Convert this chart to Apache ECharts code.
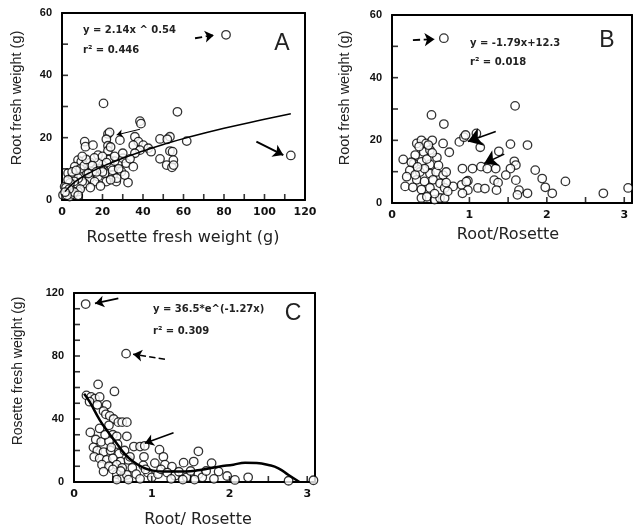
<!DOCTYPE html>
<html><head><meta charset="utf-8">
<script src="https://cdn.jsdelivr.net/npm/echarts@6/dist/echarts.min.js"></script>
<style>html,body{margin:0;padding:0;background:#fff}#c{width:635px;height:529px}</style>
</head><body><div id="c"></div>
<script>
// ---- tick labels / tick positions ----
const ticksAx = [0, 20, 40, 60, 80, 100, 120];
const minorAx = [10, 30, 50, 70, 90, 110];
const ticksRatio = [0, 1, 2, 3];
const minorRatio = [0.5, 1.5, 2.5];
const ticksY60 = [0, 20, 40, 60];
const minorY60 = [10, 30, 50];
const ticksY120 = [0, 40, 80, 120];
const minorY120 = [10, 20, 30, 50, 60, 70, 90, 100, 110];

// ---- Panel A: rosette fresh weight (x) vs root fresh weight (y) ----
const pointsA = [
 [81,53],[113,14.3],[20.5,31],[57,28.3],[38.5,25.3],[11.2,18.7],[11.6,17.1],[15.3,17.6],[22.7,21.2],[23.5,21.7],
 [21.9,19.5],[22.7,17.4],[22.7,15.8],[17.8,14.4],[7.9,12.8],[9.5,12.3],[6.3,10.7],[13.7,10.1],[16.9,10.1],[20.2,11.2],
 [24.4,10.7],[27.7,11.8],[30.1,13.4],[31.7,11.8],[3,8.6],[5.4,7.5],[9.5,8],[13.7,7],[17.8,7.5],[21.1,8.6],
 [25.2,8],[29.3,9.1],[26.8,5.9],[21.9,5.9],[16.1,5.9],[11.2,5.3],[7.1,4.8],[32.6,5.6],[1.3,4.3],[2.1,2.7],
 [4.6,3.2],[7.9,2.7],[0.5,1.6],[3.8,1.1],[5.4,1.9],[36,20.3],[37.7,18.7],[35.2,17.6],[40.1,17.6],[38.5,16],
 [42.6,16.6],[36,15],[48.4,19.6],[53.3,20.3],[52,19.5],[61.6,18.9],[53.3,15.7],[54.6,15.5],[48.4,13.2],[55,12.8],
 [51.7,11.2],[54.3,10.5],[55.1,11.2],[35.2,10.7],[33.6,13.2],[28.6,19.2],[30,15],[26,12.5],[19,10],[14,12],
 [12,9],[10,6],[8,7],[6,6],[4,5.5],[3,6.5],[2,4],[9,10],[11,11],[15,9],
 [18,12],[23,13],[25,9.5],[27,7],[19,4.5],[14,4],[9,3.5],[6,2.5],[12,13],[10,14],
 [16,13.5],[20,9],[24,6.5],[28,10],[31,8],[3.5,3.5],[5,9],[7,9.5],[2.5,1.5],[1.5,2.5],
 [8,1.5],[13,8.5],[15,11],[17,9],[20,14],[22,12],[26,14],[24,17],[39,24.5],[44,15.5]
];
const fitA = [[1.5,2.7],[5,5.1],[10,7.4],[15,9.2],[20,10.8],[30,13.4],[40,15.7],[50,17.8],[60,19.7],[80,23.0],[100,25.9],[113,27.7]];
const arrowsA = [[[65.7,51.9],[75,52.9]],[[96,18.7],[109.3,14.4]],[[38.5,22.7],[27,20.9]]];

// ---- Panel B: root/rosette (x) vs root fresh weight (y) ----
const pointsB = [
 [0.67,52.6],[1.59,31],[0.51,28.1],[0.67,25.2],[0.145,13.9],[0.32,19],[0.38,20],[0.44,19],[0.52,20],[0.66,19],
 [0.87,19.5],[0.93,21],[0.95,21.7],[1.09,22.2],[1.14,17.8],[1.53,18.8],[1.75,18.5],[1.38,16.5],[0.74,16.2],[0.3,15.3],
 [0.41,16.3],[0.49,16.9],[0.28,12.6],[0.38,13.1],[0.49,12.3],[0.23,10.4],[0.36,9.9],[0.49,9.4],[0.57,9.9],[0.66,8.9],
 [0.7,9.9],[0.19,8.4],[0.32,7.4],[0.42,6.9],[0.53,7.4],[0.62,6.3],[0.17,5.3],[0.27,5],[0.38,4.3],[0.49,4.8],
 [0.68,4.8],[0.79,5.3],[0.9,5.8],[0.98,7.1],[0.38,1.6],[0.55,1.1],[0.62,1.6],[0.68,1.6],[0.72,3.7],[1.58,13.3],
 [1.6,12.1],[0.91,11],[1.04,11],[1.15,11.6],[1.23,11],[1.34,11],[1.53,11],[1.47,8.9],[1.85,10.5],[1.32,7.3],
 [1.37,6.5],[1.6,7.3],[1.94,7.8],[0.96,6.8],[0.98,4.1],[1.11,4.8],[1.2,4.6],[1.35,4.1],[1.64,4.1],[1.62,2.6],
 [1.75,3.1],[1.98,5],[2.07,3.1],[2.24,6.9],[2.73,3.1],[3.05,4.8],[0.91,3.1],[0.35,18],[0.45,14],[0.25,13],
 [0.58,14.5],[0.6,12],[0.42,11],[0.3,9],[0.55,3],[0.45,2],[0.7,6.5],[0.33,11.5],[0.52,16],[0.47,18.5]
];
const arrowsB = [[[0.27,52],[0.55,52.3]],[[1.34,22.8],[0.98,19.6]],[[1.45,15.6],[1.19,12.6]]];

// ---- Panel C: root/rosette (x) vs rosette fresh weight (y) ----
const pointsC = [
 [0.15,113],[0.67,81.5],[0.31,62],[0.52,57.5],[0.16,55],[0.22,54],[0.27,53],[0.33,54],[0.2,51],[0.3,49],
 [0.42,49],[0.38,45],[0.41,43],[0.46,42],[0.51,40],[0.57,38],[0.62,38],[0.68,38],[0.45,36],[0.21,31.5],
 [0.33,34],[0.5,30],[0.55,29],[0.68,29],[0.28,27],[0.35,25.5],[0.45,26],[0.56,24],[0.77,22.5],[0.85,22.5],
 [0.91,23],[0.25,22],[0.3,20],[0.38,19],[0.47,20],[0.58,18],[1.1,20.5],[1.6,19.5],[0.26,16],[0.33,15],
 [0.42,14],[0.5,15],[0.6,13],[0.7,14],[0.9,16],[0.36,11],[0.45,10],[0.55,11],[0.62,9],[0.75,9],
 [0.89,10.5],[1.15,16],[1.04,12],[1.17,11],[1.26,9.7],[1.41,12.3],[1.54,13],[1.77,12],[0.38,6.6],[0.55,5],
 [0.62,3],[0.68,4.5],[0.8,5],[0.95,6],[1.0,3],[1.08,5],[1.12,8],[1.2,6],[1.3,4],[1.35,6.5],
 [1.45,3],[1.5,7],[1.6,5],[1.65,3],[1.7,7],[1.86,6.6],[1.97,3.8],[2.07,1.3],[2.24,3],[2.76,0.8],
 [3.08,1.1],[0.55,1.5],[0.7,1.5],[0.85,2],[0.92,8],[1.25,2],[1.4,1.5],[1.55,1.5],[1.8,2],[0.6,7],
 [0.5,8],[0.65,20],[0.72,16],[0.4,30],[0.48,22]
];
const fitC = [[0.13,56],[0.2,51],[0.33,39.5],[0.45,31],[0.55,24.5],[0.65,18],[0.76,13],[0.88,9.5],[0.98,7.6],[1.15,6.6],
 [1.43,6.6],[1.62,7.6],[1.86,9.7],[2.05,11],[2.2,12.2],[2.35,12],[2.5,10.8],[2.63,8.7],[2.76,4.4],[2.9,0]];
const arrowsC = [[[0.57,116.6],[0.27,113.4]],[[1.17,77.9],[0.76,81.1]],[[1.28,31.3],[0.91,24.6]]];

// ---- styles ----
const arrowStyles = {
  A: [{type:'dashed', w:1.8, head:9}, {type:'solid', w:2, head:10}, {type:'solid', w:1, head:6}],
  B: [{type:'dashed', w:1.8, head:10}, {type:'solid', w:1.6, head:14}, {type:'solid', w:1.6, head:13}],
  C: [{type:'solid', w:1.8, head:9}, {type:'dashed', w:1.6, head:9}, {type:'solid', w:1.6, head:9}]
};
function arrowData(list, styles) {
  return list.map((a, i) => [
    {coord: a[0], symbol: 'none', lineStyle: {color:'#000', width: styles[i].w, type: styles[i].type}},
    {coord: a[1], symbol: 'arrow', symbolSize: styles[i].head}
  ]);
}
const tickLabelX = {color:'#111', fontFamily:'DejaVu Sans', fontWeight:'bold', fontSize:11, margin:7};
const tickLabelY = {color:'#111', fontFamily:'Liberation Sans', fontWeight:'bold', fontSize:11, margin:10};
const blackLine = {show:true, onZero:false, lineStyle:{color:'#000', width:2}};
function mainAxis(gi, ticks, max, label) {
  return {
    gridIndex: gi, type:'value', min: ticks[0], max: max, interval: ticks[1]-ticks[0],
    axisLine: blackLine, axisTick:{show:false}, minorTick:{show:false}, splitLine:{show:false},
    axisLabel: Object.assign({formatter: v => ticks.includes(v) ? String(v) : ''}, label)
  };
}
function frameAxis(gi, ticks, max, pos) {
  return {
    gridIndex: gi, type:'value', position: pos, min: ticks[0], max: max, interval: ticks[1]-ticks[0],
    axisLine: blackLine, axisTick:{show:false}, minorTick:{show:false}, axisLabel:{show:false}, splitLine:{show:false}
  };
}
const scatterStyle = {color:'#fff', borderColor:'#000', borderWidth:1.3};
function scatter(gi, data, arrows, styles) {
  return {
    type:'scatter', xAxisIndex: gi, yAxisIndex: gi, data: data, symbol:'circle', symbolSize: 8.5,
    itemStyle: scatterStyle, silent: true, z: 3,
    markLine: {silent:true, animation:false, label:{show:false}, symbol:['none','arrow'],
      data: arrowData(arrows, styles)}
  };
}
// inward tick marks as thin rectangles placed by the axes' own scales
function tickMarks(gi, xt, xm, yt, ym) {
  const xs = xt.concat(xm).map(v => [v, yt[0]]);
  const ys = yt.concat(ym).map(v => [xt[0], v]);
  const base = {type:'scatter', xAxisIndex: gi, yAxisIndex: gi, symbol:'rect', silent:true, clip:false, z: 6,
    itemStyle:{color:'#000', borderWidth:0}};
  return [
    Object.assign({}, base, {data: xs, symbolSize:[1.6, 6], symbolOffset:[0, -3]}),
    Object.assign({}, base, {data: ys, symbolSize:[6, 1.6], symbolOffset:[3, 0]})
  ];
}
function textEl(x, y, text, font, align, rot) {
  return {type:'text', x: x, y: y, rotation: rot || 0, silent:true, z: 50,
    style:{text: text, font: font, fill: '#222', align: align || 'left', verticalAlign:'middle'}};
}
const annFont = 'bold 10px "DejaVu Sans"';
const letterFont = '23px "Liberation Sans"';
const xNameFont = '16px "DejaVu Sans"';
const yNameFont = '14.5px "Liberation Sans"';
const R90 = Math.PI / 2;

const chart = echarts.init(document.getElementById('c'));
chart.setOption({
  animation: false,
  grid: [
    {left:62, top:13, width:243, height:187},
    {left:392, top:15, width:242, height:188},
    {left:74, top:293, width:241, height:189}
  ],
  xAxis: [
    mainAxis(0, ticksAx, 120, tickLabelX),
    mainAxis(1, ticksRatio, 3.1, tickLabelX),
    mainAxis(2, ticksRatio, 3.1, tickLabelX),
    frameAxis(0, ticksAx, 120, 'top'),
    frameAxis(1, ticksRatio, 3.1, 'top'),
    frameAxis(2, ticksRatio, 3.1, 'top')
  ],
  yAxis: [
    mainAxis(0, ticksY60, 60, tickLabelY),
    mainAxis(1, ticksY60, 60, tickLabelY),
    mainAxis(2, ticksY120, 120, tickLabelY),
    frameAxis(0, ticksY60, 60, 'right'),
    frameAxis(1, ticksY60, 60, 'right'),
    frameAxis(2, ticksY120, 120, 'right')
  ],
  series: [
    scatter(0, pointsA, arrowsA, arrowStyles.A),
    {type:'line', xAxisIndex:0, yAxisIndex:0, data: fitA, showSymbol:false, smooth:true, silent:true, z: 4,
      lineStyle:{color:'#000', width:1.5}},
    scatter(1, pointsB, arrowsB, arrowStyles.B),
    scatter(2, pointsC, arrowsC, arrowStyles.C),
    {type:'line', xAxisIndex:2, yAxisIndex:2, data: fitC, showSymbol:false, smooth:true, silent:true, z: 4,
      lineStyle:{color:'#000', width:2.5}}
  ].concat(
    tickMarks(0, ticksAx, minorAx, ticksY60, minorY60),
    tickMarks(1, ticksRatio, minorRatio, ticksY60, minorY60),
    tickMarks(2, ticksRatio, minorRatio, ticksY120, minorY120)
  ),
  graphic: [
    textEl(83, 30, 'y = 2.14x ^ 0.54', annFont),
    textEl(83, 50, 'r\u00B2 = 0.446', annFont),
    textEl(282, 44, 'A', letterFont, 'center'),
    textEl(470, 43, 'y = -1.79x+12.3', annFont),
    textEl(470, 62, 'r\u00B2 = 0.018', annFont),
    textEl(607, 41, 'B', letterFont, 'center'),
    textEl(153, 309, 'y = 36.5*e^(-1.27x)', annFont),
    textEl(153, 331, 'r\u00B2 = 0.309', annFont),
    textEl(293, 314, 'C', letterFont, 'center'),
    textEl(183, 238, 'Rosette fresh weight (g)', xNameFont, 'center'),
    textEl(508, 235, 'Root/Rosette', xNameFont, 'center'),
    textEl(198, 520, 'Root/ Rosette', xNameFont, 'center'),
    textEl(17, 98, 'Root fresh weight (g)', yNameFont, 'center', R90),
    textEl(345, 98, 'Root fresh weight (g)', yNameFont, 'center', R90),
    textEl(18, 371, 'Rosette fresh weight (g)', '14px "Liberation Sans"', 'center', R90)
  ]
});
</script></body></html>
